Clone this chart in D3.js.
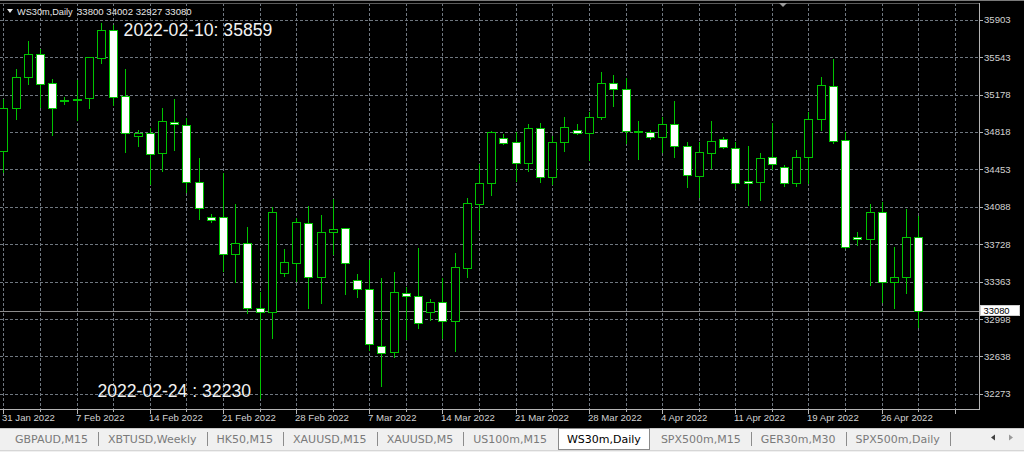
<!DOCTYPE html>
<html><head><meta charset="utf-8">
<script src="https://cdn.jsdelivr.net/npm/d3@7"></script>
<style>html,body{margin:0;padding:0;background:#000;overflow:hidden}</style>
</head><body><svg id="c" width="1024" height="452"></svg>
<script>
const dates = ["2022-01-31","2022-02-01","2022-02-02","2022-02-03","2022-02-04","2022-02-06",
"2022-02-07","2022-02-08","2022-02-09","2022-02-10","2022-02-11","2022-02-13",
"2022-02-14","2022-02-15","2022-02-16","2022-02-17","2022-02-18","2022-02-20",
"2022-02-21","2022-02-22","2022-02-23","2022-02-24","2022-02-25","2022-02-27",
"2022-02-28","2022-03-01","2022-03-02","2022-03-03","2022-03-04","2022-03-06",
"2022-03-07","2022-03-08","2022-03-09","2022-03-10","2022-03-11","2022-03-13",
"2022-03-14","2022-03-15","2022-03-16","2022-03-17","2022-03-18","2022-03-20",
"2022-03-21","2022-03-22","2022-03-23","2022-03-24","2022-03-25","2022-03-27",
"2022-03-28","2022-03-29","2022-03-30","2022-03-31","2022-04-01","2022-04-03",
"2022-04-04","2022-04-05","2022-04-06","2022-04-07","2022-04-08","2022-04-10",
"2022-04-11","2022-04-12","2022-04-13","2022-04-14","2022-04-17","2022-04-18",
"2022-04-19","2022-04-20","2022-04-21","2022-04-22","2022-04-24","2022-04-25",
"2022-04-26","2022-04-27","2022-04-28","2022-04-29"];
const open = [34632,35046,35347,35570,35289,35124,35132,35143,35537,35806,35162,34774,
34803,34609,34916,34887,34331,33991,33991,33629,33736,33105,33072,33444,
33544,33930,33411,33842,33881,33379,33292,32742,32678,33256,33227,33066,
33163,32984,33493,34114,34324,34761,34716,34515,34852,34382,34716,34835,
34806,34959,35294,35230,34829,34819,34764,34894,34680,34389,34609,34745,
34664,34340,34328,34570,34479,34318,34570,34939,35265,34738,33794,33775,
34042,33357,33411,33800];
const high = [35136,35427,35702,35619,35330,35159,35321,35545,35871,35859,35427,34832,
34852,35052,35136,34949,34561,34020,34421,34117,33891,33266,34085,33680,
33978,34098,34007,34166,33887,33438,33574,33396,33460,33309,33687,33192,
33396,33639,34172,34505,34821,34797,34818,34894,34906,34777,34959,34894,
35007,35395,35369,35337,34926,34835,34959,35117,34722,34722,34923,34770,
34722,34680,34615,34906,34496,34641,35007,35347,35522,34819,33842,34117,
34139,33703,34066,34002];
const low = [34428,34942,35279,35062,34787,35085,34932,35046,35489,35078,34619,34680,
34308,34437,34641,34231,33969,33940,33467,33363,33062,32230,32814,33418,
33373,33105,33153,33632,33241,33217,32700,32354,32629,32804,32911,32991,
32814,32693,33406,33872,34204,34699,34343,34440,34328,34311,34634,34797,
34544,34942,35071,34712,34551,34745,34625,34576,34285,34182,34464,34658,
34269,34107,34156,34453,34292,34292,34318,34835,34712,33693,33719,33331,
33169,33105,33250,32927];
const close = [35049,35347,35570,35279,35049,35130,35140,35543,35806,35153,34803,34803,
34599,34920,34896,34334,34081,33960,33629,33739,33105,33072,34042,33551,
33940,33406,33842,33872,33544,33295,32755,32674,33260,33221,32959,33169,
32984,33503,34124,34324,34818,34709,34515,34858,34382,34716,34864,34803,
34959,35294,35230,34826,34816,34770,34894,34680,34399,34619,34729,34673,
34318,34318,34561,34502,34318,34576,34939,35272,34731,33703,33775,34042,
33363,33411,33800,33080];
const priceTicks = [35903,35543,35178,34818,34453,34088,33728,33363,32998,32638,32273];
const timeLabels = ["31 Jan 2022","7 Feb 2022","14 Feb 2022","21 Feb 2022","28 Feb 2022",
"7 Mar 2022","14 Mar 2022","21 Mar 2022","28 Mar 2022","4 Apr 2022","11 Apr 2022",
"19 Apr 2022","26 Apr 2022"];
const symbolName = "WS30m,Daily";
const lastPrice = 33080;
const tabs = ["GBPAUD,M15","XBTUSD,Weekly","HK50,M15","XAUUSD,M15","XAUUSD,M5",
"US100m,M15","WS30m,Daily","SPX500m,M15","GER30m,M30","SPX500m,Daily"];
const activeTab = "WS30m,Daily";
const notes = [
  {date:"2022-02-10", value:35859, text:"2022-02-10: 35859", anchor:"start"},
  {date:"2022-02-24", value:32230, text:"2022-02-24 : 32230", anchor:"end"}
];

const svg = d3.select("#c");
const W = 1024, H = 452;
const plotR = 979, plotT = 3, plotB = 409;
const green = "#00c400";
const gridCol = "#6f7780";

const idx = d3.scaleLinear().domain([0, dates.length - 1]).range([3.3, 918.3]);
const y = d3.scaleLinear().domain([32273, 35903]).range([394, 20]);
const data = dates.map((d, i) => ({d, i, o: open[i], h: high[i], l: low[i], c: close[i]}));

svg.append("rect").attr("width", W).attr("height", H).attr("fill", "#000");

// grid
const gridIdx = d3.range(0, 79, 3);
const g = svg.append("g").attr("shape-rendering", "crispEdges");
g.selectAll("line.v").data(gridIdx).join("line")
  .attr("x1", i => Math.round(idx(i)) + 0.5).attr("x2", i => Math.round(idx(i)) + 0.5)
  .attr("y1", plotT).attr("y2", plotB)
  .attr("stroke", gridCol).attr("stroke-dasharray", "3,2");
g.selectAll("line.h").data(priceTicks).join("line")
  .attr("x1", 0).attr("x2", plotR)
  .attr("y1", v => Math.round(y(v)) + 0.5).attr("y2", v => Math.round(y(v)) + 0.5)
  .attr("stroke", gridCol).attr("stroke-dasharray", "3,2");

// last price line
g.append("line").attr("x1", 0).attr("x2", plotR)
  .attr("y1", Math.round(y(lastPrice)) + 0.5).attr("y2", Math.round(y(lastPrice)) + 0.5)
  .attr("stroke", "#8c8c8c").attr("stroke-width", 1.5);

// candles
const cg = svg.append("g").attr("shape-rendering", "crispEdges");
const cand = cg.selectAll("g").data(data).join("g");
cand.append("line")
  .attr("x1", d => Math.round(idx(d.i)) + 0.5).attr("x2", d => Math.round(idx(d.i)) + 0.5)
  .attr("y1", d => Math.round(y(d.h))).attr("y2", d => Math.round(y(d.l)) + 1)
  .attr("stroke", green);
cand.append("rect")
  .attr("x", d => Math.round(idx(d.i)) - 3.5)
  .attr("width", 8)
  .attr("y", d => Math.round(y(Math.max(d.o, d.c))) + 0.5)
  .attr("height", d => Math.max(1, Math.round(y(Math.min(d.o, d.c))) - Math.round(y(Math.max(d.o, d.c)))))
  .attr("fill", d => d.c >= d.o ? "#000" : "#fff")
  .attr("stroke", green);

// frame
const fr = svg.append("g").attr("shape-rendering", "crispEdges").attr("stroke", "#b4b4b4");
fr.append("line").attr("x1", 0).attr("x2", W).attr("y1", 0.5).attr("y2", 0.5).attr("stroke", "#7a7a7a");
fr.append("line").attr("x1", 0).attr("x2", plotR).attr("y1", plotT + 0.5).attr("y2", plotT + 0.5).attr("stroke", "#5a5a5a");
fr.append("line").attr("x1", plotR + 0.5).attr("x2", plotR + 0.5).attr("y1", plotT).attr("y2", plotB);
fr.append("line").attr("x1", 0).attr("x2", plotR + 1).attr("y1", plotB + 0.5).attr("y2", plotB + 0.5);

// right axis
const ra = svg.append("g").attr("font-family", "Liberation Sans, Arial, sans-serif").attr("font-size", "9.6px");
ra.selectAll("line").data(priceTicks).join("line")
  .attr("shape-rendering", "crispEdges")
  .attr("x1", plotR).attr("x2", plotR + 4)
  .attr("y1", v => Math.round(y(v)) + 0.5).attr("y2", v => Math.round(y(v)) + 0.5)
  .attr("stroke", "#b4b4b4");
ra.selectAll("text").data(priceTicks).join("text")
  .attr("x", 984).attr("y", v => y(v)).attr("dy", "0.36em")
  .attr("fill", "#d2d2d2").text(v => v);
// last price box
const ly = Math.round(y(lastPrice));
ra.append("rect").attr("x", 980.5).attr("y", ly - 5.5).attr("width", 39).attr("height", 10)
  .attr("fill", "#fff").attr("stroke", "#d0d0d0").attr("shape-rendering", "crispEdges");
ra.append("text").attr("x", 983.5).attr("y", ly + 3.2).attr("font-size", "9.4px").attr("fill", "#000").text(lastPrice);

// time axis
const ta = svg.append("g").attr("font-family", "Liberation Sans, Arial, sans-serif").attr("font-size", "9.6px");
ta.selectAll("line").data(gridIdx).join("line")
  .attr("shape-rendering", "crispEdges")
  .attr("x1", i => Math.round(idx(i)) + 0.5).attr("x2", i => Math.round(idx(i)) + 0.5)
  .attr("y1", plotB).attr("y2", i => i % 6 === 0 ? plotB + 5 : plotB + 3)
  .attr("stroke", "#b4b4b4");
ta.selectAll("text").data(timeLabels).join("text")
  .attr("x", (t, k) => Math.round(idx(k * 6)) - 1).attr("y", 420.5)
  .attr("fill", "#d2d2d2").text(t => t);

// header
svg.append("path").attr("d", "M7,9 L13,9 L10,13 Z").attr("fill", "#e8e8e8");
svg.append("text").attr("x", 17).attr("y", 14.5)
  .attr("font-family", "Liberation Sans, Arial, sans-serif").attr("font-size", "9.2px")
  .attr("fill", "#e6e6e6").text(symbolName);
svg.append("text").attr("x", 77).attr("y", 14.5)
  .attr("font-family", "Liberation Sans, Arial, sans-serif").attr("font-size", "9.6px")
  .attr("fill", "#e6e6e6")
  .text([open[open.length-1], high[high.length-1], low[low.length-1], close[close.length-1]].join(" "));
// shift marker
svg.append("path").attr("d", "M779,3 L787,3 L783,7 Z").attr("fill", "#9a9a9a");

// annotations
const di = d => dates.indexOf(d);
svg.append("g").attr("font-family", "Liberation Sans, Arial, sans-serif").attr("font-size", "17.6px")
  .attr("fill", "#f2f2f2")
  .selectAll("text").data(notes).join("text")
  .attr("text-anchor", n => n.anchor)
  .attr("x", n => n.anchor === "start" ? idx(di(n.date)) + 10.5 : idx(di(n.date)) - 8.5)
  .attr("y", n => n.anchor === "start" ? y(n.value) + 11.2 : y(n.value) - 1.2)
  .text(n => n.text);

// tab bar
const tb = svg.append("g");
tb.append("rect").attr("x", 0).attr("y", 428).attr("width", W).attr("height", 24).attr("fill", "#f0f0f0");
tb.append("line").attr("x1", 0).attr("x2", W).attr("y1", 428.5).attr("y2", 428.5).attr("stroke", "#c8c8c8").attr("shape-rendering", "crispEdges");
tb.append("line").attr("x1", 0).attr("x2", W).attr("y1", 450.5).attr("y2", 450.5).attr("stroke", "#d6d6d6").attr("shape-rendering", "crispEdges");
let cursor = 15;
tabs.forEach((name, k) => {
  const active = name === activeTab;
  const t = tb.append("text").attr("x", cursor).attr("y", 443)
    .attr("font-family", "DejaVu Sans, sans-serif").attr("font-size", "11px")
    .attr("fill", active ? "#000" : "#7a7a7a").text(name);
  const w = t.node().getComputedTextLength();
  if (active) {
    tb.insert("rect", () => t.node())
      .attr("x", Math.round(cursor - 9) + 0.5).attr("y", 428.5)
      .attr("width", Math.round(w + 17)).attr("height", 21)
      .attr("fill", "#fff").attr("stroke", "#8a8a8a").attr("shape-rendering", "crispEdges");
  }
  const nextActive = tabs[k + 1] === activeTab;
  if (!active && !nextActive) {
    const sx = Math.round(cursor + w + 10) + 0.5;
    tb.append("line").attr("x1", sx).attr("x2", sx).attr("y1", 432).attr("y2", 446)
      .attr("stroke", "#8c8c8c").attr("shape-rendering", "crispEdges");
  }
  cursor += w + 20;
});
tb.append("path").attr("d", "M991,437.5 L995,434.5 L995,440.5 Z").attr("fill", "#404040");
tb.append("path").attr("d", "M1013,437.5 L1009,434.5 L1009,440.5 Z").attr("fill", "#9a9a9a");
</script></body></html>
